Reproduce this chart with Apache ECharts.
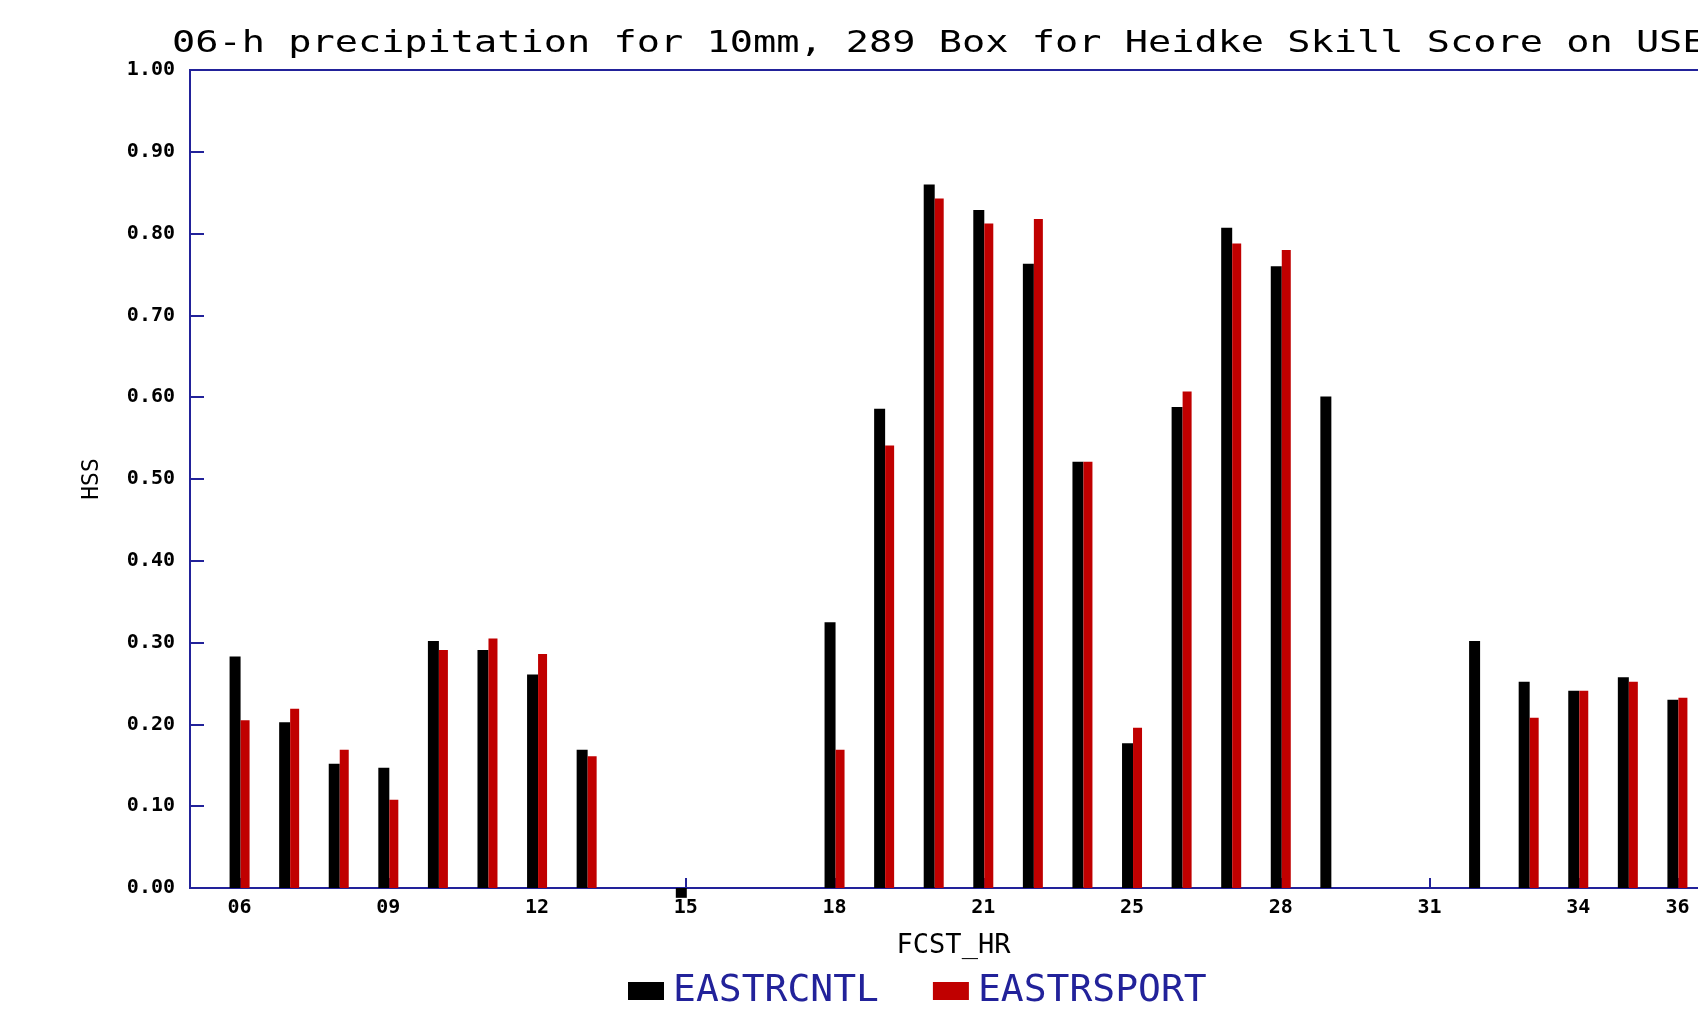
<!DOCTYPE html>
<html>
<head>
<meta charset="utf-8">
<script src="https://cdn.jsdelivr.net/npm/echarts@6/dist/echarts.min.js"></script>
<style>
html,body{margin:0;padding:0;background:#fff;overflow:hidden;width:1698px;height:1017px;}
#chart{width:1740px;height:1017px;}
</style>
</head>
<body>
<div id="chart"></div>
<script>
const titleText = '06-h precipitation for 10mm, 289 Box for Heidke Skill Score on USE';
const categories = ['06','07','08','09','10','11','12','13','14','15','16','17','18','19','20','21','22','24','25','26','27','28','29','30','31','32','33','34','35','36'];
const xTickLabels = ['06','09','12','15','18','21','25','28','31','34','36'];
const eastrcntl = [0.283, 0.2025, 0.152, 0.147, 0.302, 0.291, 0.261, 0.169, null, -0.012, null, null, 0.325, 0.586, 0.860, 0.829, 0.763, 0.521, 0.177, 0.588, 0.807, 0.760, 0.601, null, null, 0.302, 0.252, 0.241, 0.2575, 0.230];
const eastrsport = [0.205, 0.219, 0.169, 0.108, 0.291, 0.305, 0.286, 0.161, null, null, null, null, 0.169, 0.541, 0.843, 0.8125, 0.818, 0.521, 0.196, 0.607, 0.788, 0.780, null, null, null, null, 0.208, 0.241, 0.252, 0.2325];
const yTickValues = [0, 0.1, 0.2, 0.3, 0.4, 0.5, 0.6, 0.7, 0.8, 0.9, 1.0];

const BLUE = '#22229a';
const axisCats = [''].concat(categories, ['']);
const shown = new Set(xTickLabels);
const showFn = (idx, val) => shown.has(val);

const chart = echarts.init(document.getElementById('chart'), null, {renderer: 'canvas'});
chart.setOption({
  animation: false,
  backgroundColor: '#ffffff',
  graphic: [{
    type: 'text', x: 172, y: 44, scaleX: 1.245,
    style: { text: titleText, fontFamily: 'DejaVu Sans Mono', fontSize: 31, fill: '#000', align: 'left', verticalAlign: 'middle' }
  }],
  legend: {
    left: 628, top: 972, padding: 0, itemWidth: 36, itemHeight: 18, itemGap: 54, icon: 'rect',
    textStyle: { fontFamily: 'DejaVu Sans Mono', fontSize: 38, color: BLUE, padding: [0, 0, 0, 4] },
    data: ['EASTRCNTL', 'EASTRSPORT']
  },
  grid: { left: 190, top: 70, width: 1537, height: 818, show: true, borderColor: BLUE, borderWidth: 2, backgroundColor: 'transparent' },
  xAxis: {
    type: 'category', data: axisCats, boundaryGap: false,
    name: 'FCST_HR', nameLocation: 'middle', nameGap: 44,
    nameTextStyle: { fontFamily: 'DejaVu Sans Mono', fontSize: 27, color: '#000', padding: [0, 10, 0, 0] },
    axisLine: { lineStyle: { color: BLUE, width: 2 } },
    axisTick: { show: true, inside: true, length: 10, interval: showFn, lineStyle: { color: BLUE, width: 2 } },
    axisLabel: { interval: showFn, margin: 10, fontFamily: 'DejaVu Sans Mono', fontWeight: 'bold', fontSize: 20, color: '#000' },
    splitLine: { show: false }
  },
  yAxis: {
    type: 'value', min: 0, max: 1, interval: 0.1,
    name: 'HSS', nameLocation: 'middle', nameGap: 86, nameRotate: 90,
    nameTextStyle: { fontFamily: 'DejaVu Sans Mono', fontSize: 23, color: '#000' },
    axisLine: { show: true, lineStyle: { color: BLUE, width: 2 } },
    axisTick: { show: true, inside: true, length: 14, lineStyle: { color: BLUE, width: 2 } },
    axisLabel: { margin: 15, fontFamily: 'DejaVu Sans Mono', fontWeight: 'bold', fontSize: 20, color: '#000',
      formatter: v => { const t = yTickValues.find(x => Math.abs(x - v) < 1e-9); return (t !== undefined ? t : v).toFixed(2); } },
    splitLine: { show: false }
  },
  series: [
    { name: 'EASTRCNTL', type: 'bar', data: [null].concat(eastrcntl, [null]), barWidth: 11, barGap: '0%', clip: false,
      itemStyle: { color: '#000000' } },
    { name: 'EASTRSPORT', type: 'bar', data: [null].concat(eastrsport, [null]), barWidth: 9, barGap: '0%', clip: false,
      itemStyle: { color: '#c00000' } }
  ]
});
</script>
</body>
</html>
